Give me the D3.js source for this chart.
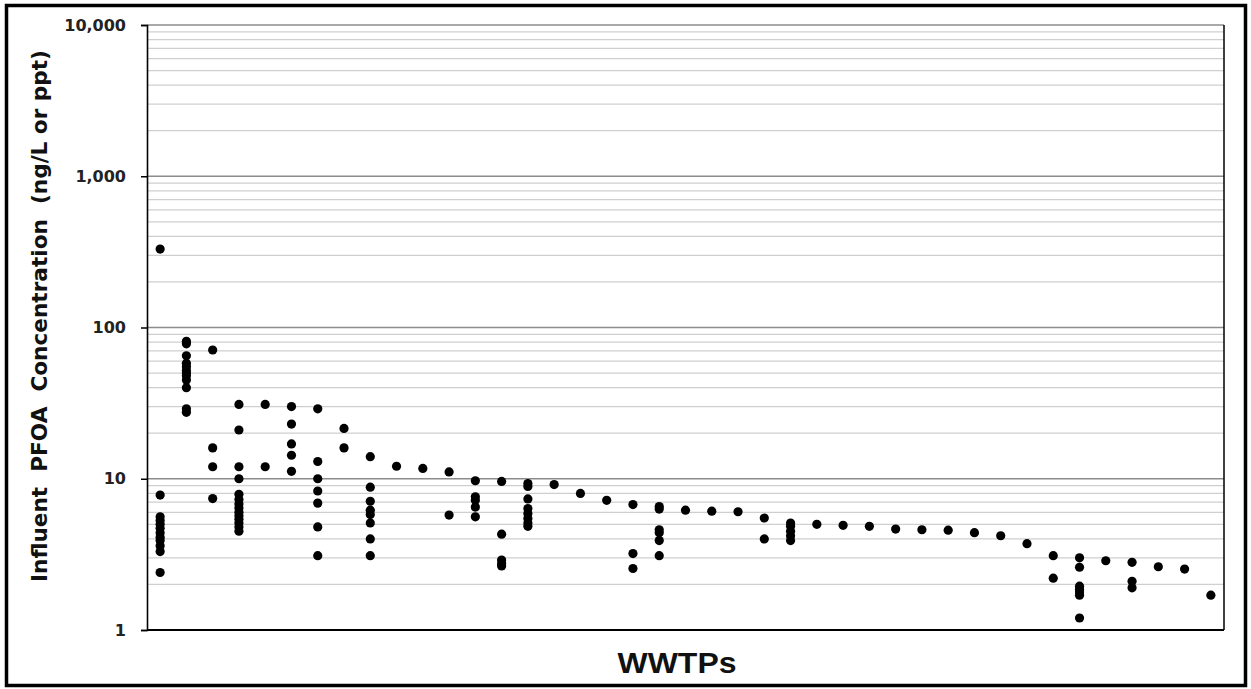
<!DOCTYPE html>
<html>
<head>
<meta charset="utf-8">
<script src="https://cdn.jsdelivr.net/npm/d3@7"></script>
<style>
  html, body { margin: 0; padding: 0; background: #fff; }
  svg { display: block; }
</style>
</head>
<body>
<svg id="chart" width="1251" height="689"></svg>
<script>
// ---- data ----
const wwtps = d3.range(1, 42).map(i => "WWTP " + i);
const pfoa = [
  [330, 7.8, 5.6, 5.3, 5.0, 4.7, 4.4, 4.1, 3.9, 3.6, 3.3, 2.4],
  [81, 78, 65, 58, 55, 52, 50, 48, 45, 40, 29, 27.5],
  [71, 16, 12, 7.4],
  [31, 21, 12, 10, 7.9, 7.3, 6.8, 6.4, 6.0, 5.7, 5.4, 5.1, 4.8, 4.5],
  [31, 12],
  [30, 23, 17, 14.3, 11.2],
  [29, 13, 10, 8.3, 6.9, 4.8, 3.1],
  [21.5, 16],
  [14, 8.8, 7.1, 6.2, 5.8, 5.1, 4.0, 3.1],
  [12.1],
  [11.7],
  [11.1, 5.75],
  [9.7, 7.6, 7.2, 6.5, 5.6],
  [9.6, 4.3, 2.9, 2.75, 2.65],
  [9.3, 8.9, 7.35, 6.35, 5.9, 5.45, 5.1, 4.85],
  [9.15],
  [8.0],
  [7.2],
  [6.75, 3.2, 2.55],
  [6.55, 6.3, 4.6, 4.4, 3.9, 3.1],
  [6.2],
  [6.1],
  [6.05],
  [5.5, 4.0],
  [5.1, 4.85, 4.5, 4.2, 3.9],
  [5.0],
  [4.92],
  [4.85],
  [4.65],
  [4.6],
  [4.57],
  [4.4],
  [4.2],
  [3.72],
  [3.1, 2.2],
  [3.0, 2.6, 1.95, 1.85, 1.78, 1.7, 1.2],
  [2.87],
  [2.8, 2.1, 1.9],
  [2.62],
  [2.53],
  [1.7]
];
const yTicks = [1, 10, 100, 1000, 10000];
const yTitle = "Influent\u00a0 PFOA\u00a0 Concentration\u00a0 (ng/L or ppt)";
const xTitle = "WWTPs";

// ---- layout ----
const svg = d3.select("#chart");
const L = 147, R = 1224, T = 25, B = 630;

const x = d3.scaleBand().domain(wwtps).range([L, R]);
const y = d3.scaleLog().domain([1, 10000]).range([B, T]);

// outer border
svg.append("rect")
  .attr("x", 6.5).attr("y", 5.5)
  .attr("width", 1239).attr("height", 680)
  .attr("fill", "none").attr("stroke", "#000").attr("stroke-width", 3.5);

// minor gridlines
const minor = [];
[1, 10, 100, 1000].forEach(d => { for (let k = 2; k <= 9; k++) minor.push(k * d); });
svg.append("g").selectAll("line").data(minor).join("line")
  .attr("x1", L).attr("x2", R)
  .attr("y1", d => y(d)).attr("y2", d => y(d))
  .attr("stroke", "#cfcfcf").attr("stroke-width", 1.2);

// major gridlines
svg.append("g").selectAll("line").data(yTicks.filter(d => d > 1)).join("line")
  .attr("x1", L).attr("x2", R)
  .attr("y1", d => y(d)).attr("y2", d => y(d))
  .attr("stroke", "#8c8c8c").attr("stroke-width", 1.5);

// right & bottom frame
svg.append("line").attr("x1", R).attr("x2", R).attr("y1", T).attr("y2", B)
  .attr("stroke", "#000").attr("stroke-width", 1.5);
svg.append("line").attr("x1", L).attr("x2", R).attr("y1", B).attr("y2", B)
  .attr("stroke", "#000").attr("stroke-width", 2);

// y axis
const yAxis = svg.append("g").attr("transform", `translate(${L},0)`)
  .call(d3.axisLeft(y).tickValues(yTicks).tickFormat(d3.format(",")).tickSize(6).tickPadding(15));
yAxis.select(".domain").attr("stroke", "#000").attr("stroke-width", 1.6);
yAxis.selectAll(".tick line").attr("stroke", "#000").attr("stroke-width", 1.5);
yAxis.selectAll(".tick text")
  .attr("font-family", "'DejaVu Sans', sans-serif")
  .attr("font-weight", "bold")
  .attr("font-size", 16)
  .attr("fill", "#222");

// points
const pts = [];
wwtps.forEach((w, i) => pfoa[i].forEach(v => pts.push({ w, v })));
svg.append("g").selectAll("circle").data(pts).join("circle")
  .attr("cx", d => x(d.w) + x.bandwidth() / 2)
  .attr("cy", d => y(d.v))
  .attr("r", 4.6)
  .attr("fill", "#000");

// titles
svg.append("text")
  .attr("transform", `translate(41,316) rotate(-90)`)
  .attr("text-anchor", "middle")
  .attr("dominant-baseline", "middle")
  .attr("font-family", "'DejaVu Sans', sans-serif")
  .attr("font-weight", "bold")
  .attr("font-size", 21)
  .attr("textLength", 532)
  .attr("lengthAdjust", "spacingAndGlyphs")
  .attr("fill", "#111")
  .text(yTitle);

svg.append("text")
  .attr("x", 677).attr("y", 673)
  .attr("text-anchor", "middle")
  .attr("font-family", "'Liberation Sans', Arial, sans-serif")
  .attr("font-weight", "bold")
  .attr("font-size", 30)
  .attr("textLength", 119)
  .attr("lengthAdjust", "spacingAndGlyphs")
  .attr("fill", "#111")
  .text(xTitle);
</script>
</body>
</html>
